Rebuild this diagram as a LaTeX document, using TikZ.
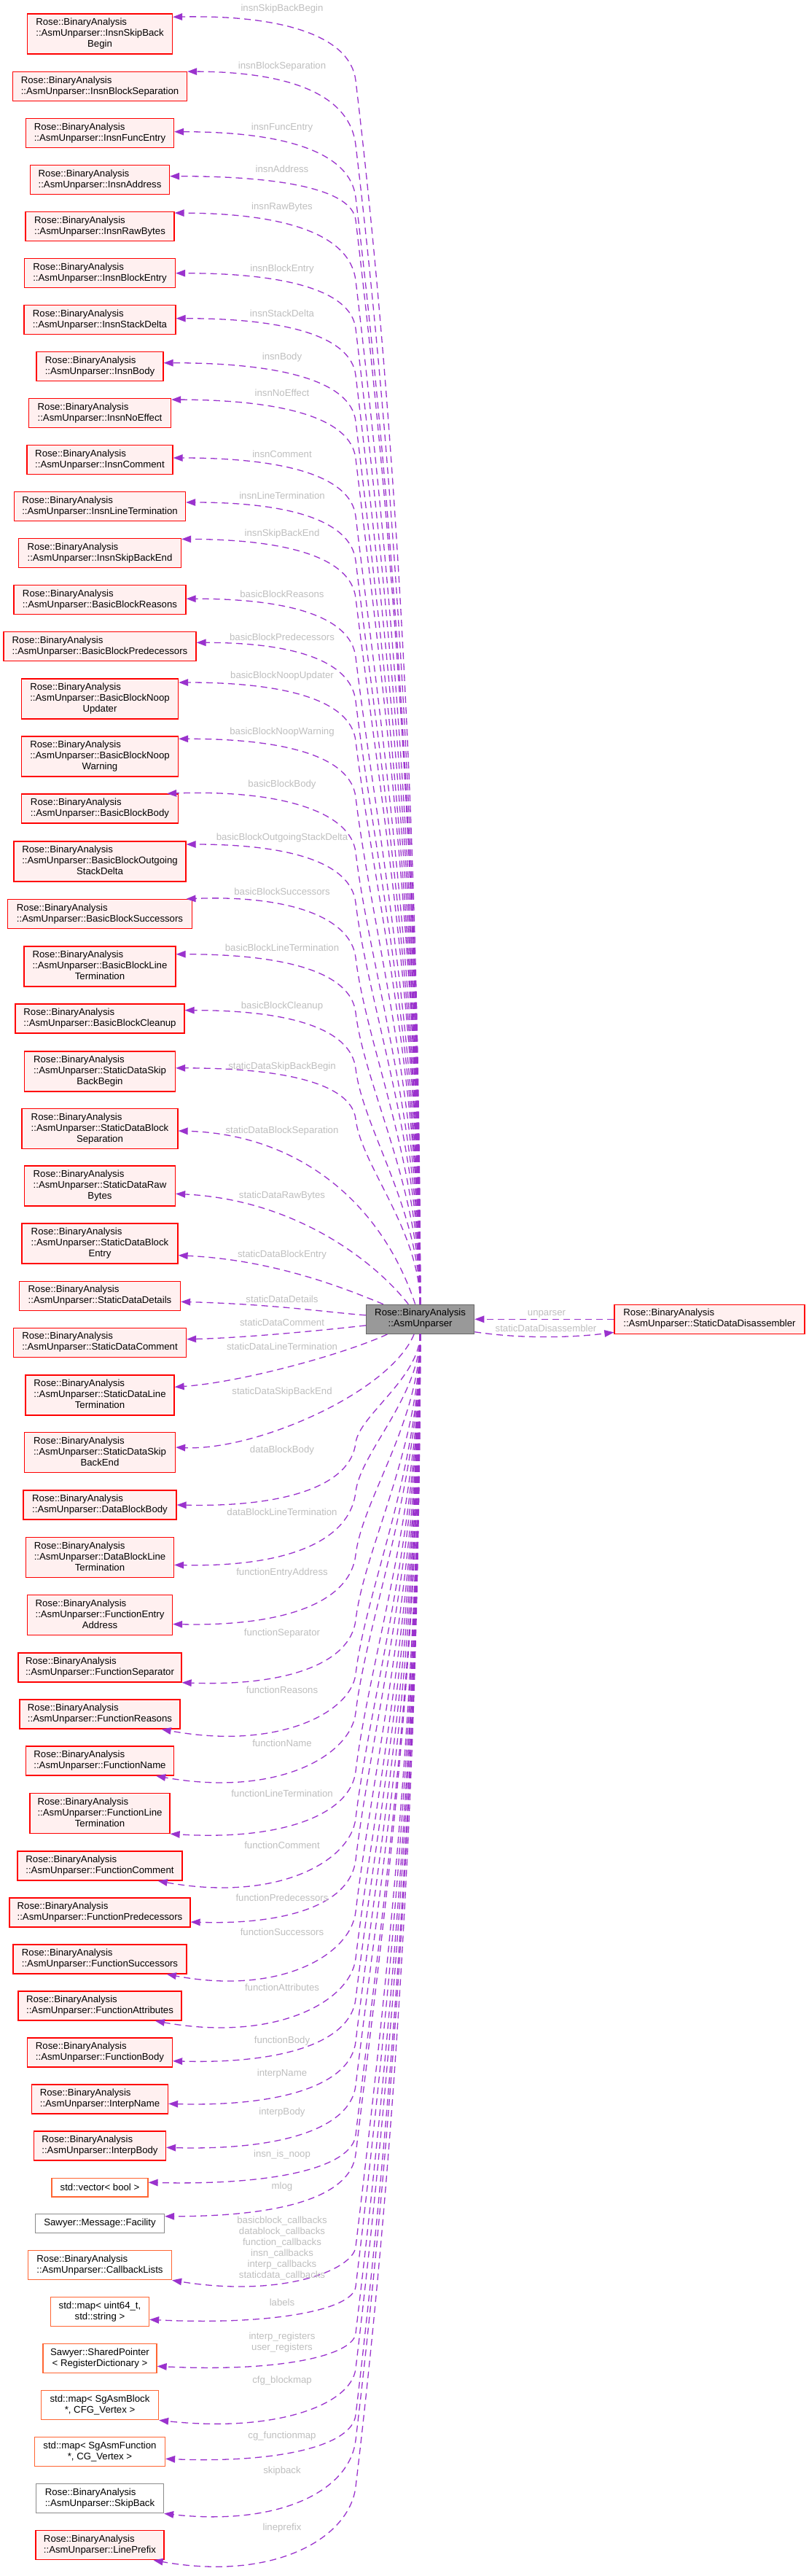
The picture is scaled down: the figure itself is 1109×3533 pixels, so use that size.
\documentclass[tikz,border=0pt]{standalone}
\usepackage{fontspec}
\newfontfamily\dox{Liberation Sans}
\usetikzlibrary{arrows.meta,calc}
\definecolor{edgec}{HTML}{9A32CD}
\definecolor{labc}{HTML}{BEBEBE}
\definecolor{rbord}{HTML}{FF0000}
\definecolor{rfill}{HTML}{FFF0F0}
\definecolor{obord}{HTML}{FF6633}
\definecolor{gbord}{HTML}{8C8C8C}
\definecolor{mfill}{HTML}{999999}
\definecolor{mbord}{HTML}{666666}
\newcommand\nTwo[2]{\begin{tabular}{@{}l@{}}#1\\\multicolumn{1}{@{}c@{}}{#2}\end{tabular}}
\newcommand\nThree[3]{\begin{tabular}{@{}l@{}}#1\\#2\\\multicolumn{1}{@{}c@{}}{#3}\end{tabular}}
\newcommand\rbA{Rose::BinaryAnalysis}
\newcommand\auP{::AsmUnparser::}
\newcommand\bx[6]{\node[#1, minimum width=#4pt, minimum height=#5pt] (#2) at (137,#3) {#6};}
\newcommand\lb[3]{\node[lab] (#1) at (387,#2) {#3};}
\newcommand\upE[5]{\draw[dep] (main) .. controls (576,{1789.3-0.4*(1789.3-(#3+#5))}) and ({488+0.03*(1789.3-(#3+#5))},{#3+#5+0.25*(1789.3-(#3+#5))}) .. (488,{#3+#5}) .. controls ({488-0.084*#5},{#3+0.3*#5}) and ({#2+0.6*(488-#2)},{#3+(#4)}) .. #1;}
\newcommand\loE[5]{\draw[dep] (main) .. controls (576,{1829.3+0.4*((#3-#5)-1829.3)}) and ({488+0.03*((#3-#5)-1829.3)},{#3-#5-0.25*((#3-#5)-1829.3)}) .. (488,{#3-#5}) .. controls ({488-0.084*#5},{#3-0.3*#5}) and ({#2+0.6*(488-#2)},{#3+(#4)}) .. #1;}
\tikzset{
 box/.style={draw, line width=1.3pt, inner sep=0pt, font=\dox\fontsize{13.2pt}{15pt}\selectfont, text=black},
 rbox/.style={box, draw=rbord, fill=rfill},
 obox/.style={box, draw=obord, fill=white},
 gbox/.style={box, draw=gbord, fill=white},
 dep/.style={draw=edgec, line width=1.3pt, dash pattern=on 9pt off 6pt, -{Triangle[length=13pt,width=9.5pt]}},
 lab/.style={text=labc, inner sep=0pt, font=\dox\fontsize{13.2pt}{15pt}\selectfont, text height=10.5pt, text depth=4.5pt},
 labm/.style={text=labc, inner sep=0pt, font=\dox\fontsize{13.2pt}{15pt}\selectfont},
}
\begin{document}
\begin{tikzpicture}[x=1pt,y=-1pt]
\useasboundingbox (0,0) rectangle (1109,3533);
% central nodes
\node[box, draw=mbord, fill=mfill, minimum width=148pt, minimum height=40pt] (main) at (576.6,1809.3) {\nTwo{\rbA}{::AsmUnparser}};
\node[rbox, minimum width=261pt, minimum height=40pt] (sdd) at (973.5,1809.3) {\nTwo{\rbA}{\auP StaticDataDisassembler}};
% left column
\bx{rbox}{n1}{46.5}{199}{55}{\nThree{\rbA}{\auP InsnSkipBack}{Begin}}
\bx{rbox}{n2}{118.7}{239}{40}{\nTwo{\rbA}{\auP InsnBlockSeparation}}
\bx{rbox}{n3}{182.7}{203}{40}{\nTwo{\rbA}{\auP InsnFuncEntry}}
\bx{rbox}{n4}{246.7}{191}{40}{\nTwo{\rbA}{\auP InsnAddress}}
\bx{rbox}{n5}{310.7}{204}{40}{\nTwo{\rbA}{\auP InsnRawBytes}}
\bx{rbox}{n6}{374.7}{207}{40}{\nTwo{\rbA}{\auP InsnBlockEntry}}
\bx{rbox}{n7}{438.7}{208}{40}{\nTwo{\rbA}{\auP InsnStackDelta}}
\bx{rbox}{n8}{502.7}{174}{40}{\nTwo{\rbA}{\auP InsnBody}}
\bx{rbox}{n9}{566.7}{195}{40}{\nTwo{\rbA}{\auP InsnNoEffect}}
\bx{rbox}{n10}{630.7}{200}{40}{\nTwo{\rbA}{\auP InsnComment}}
\bx{rbox}{n11}{694.7}{235}{40}{\nTwo{\rbA}{\auP InsnLineTermination}}
\bx{rbox}{n12}{758.7}{223}{40}{\nTwo{\rbA}{\auP InsnSkipBackEnd}}
\bx{rbox}{n13}{822.7}{236}{40}{\nTwo{\rbA}{\auP BasicBlockReasons}}
\bx{rbox}{n14}{886.7}{264}{40}{\nTwo{\rbA}{\auP BasicBlockPredecessors}}
\bx{rbox}{n15}{958.5}{215}{55}{\nThree{\rbA}{\auP BasicBlockNoop}{Updater}}
\bx{rbox}{n16}{1037.5}{215}{55}{\nThree{\rbA}{\auP BasicBlockNoop}{Warning}}
\bx{rbox}{n17}{1109}{215}{40}{\nTwo{\rbA}{\auP BasicBlockBody}}
\bx{rbox}{n18}{1181.5}{236}{55}{\nThree{\rbA}{\auP BasicBlockOutgoing}{StackDelta}}
\bx{rbox}{n19}{1253.5}{253}{40}{\nTwo{\rbA}{\auP BasicBlockSuccessors}}
\bx{rbox}{n20}{1325.5}{208}{55}{\nThree{\rbA}{\auP BasicBlockLine}{Termination}}
\bx{rbox}{n21}{1397}{232}{40}{\nTwo{\rbA}{\auP BasicBlockCleanup}}
\bx{rbox}{n22}{1469.5}{207}{55}{\nThree{\rbA}{\auP StaticDataSkip}{BackBegin}}
\bx{rbox}{n23}{1548.2}{214}{55}{\nThree{\rbA}{\auP StaticDataBlock}{Separation}}
\bx{rbox}{n24}{1626.5}{207}{55}{\nThree{\rbA}{\auP StaticDataRaw}{Bytes}}
\bx{rbox}{n25}{1705.5}{214}{55}{\nThree{\rbA}{\auP StaticDataBlock}{Entry}}
\bx{rbox}{n26}{1777.3}{221}{40}{\nTwo{\rbA}{\auP StaticDataDetails}}
\bx{rbox}{n27}{1841.3}{237}{40}{\nTwo{\rbA}{\auP StaticDataComment}}
\bx{rbox}{n28}{1913.5}{204}{55}{\nThree{\rbA}{\auP StaticDataLine}{Termination}}
\bx{rbox}{n29}{1992.2}{207}{55}{\nThree{\rbA}{\auP StaticDataSkip}{BackEnd}}
\bx{rbox}{n30}{2064}{210}{40}{\nTwo{\rbA}{\auP DataBlockBody}}
\bx{rbox}{n31}{2136}{203}{55}{\nThree{\rbA}{\auP DataBlockLine}{Termination}}
\bx{rbox}{n32}{2215}{199}{55}{\nThree{\rbA}{\auP FunctionEntry}{Address}}
\bx{rbox}{n33}{2287}{224}{40}{\nTwo{\rbA}{\auP FunctionSeparator}}
\bx{rbox}{n34}{2351}{220}{40}{\nTwo{\rbA}{\auP FunctionReasons}}
\bx{rbox}{n35}{2415}{203}{40}{\nTwo{\rbA}{\auP FunctionName}}
\bx{rbox}{n36}{2487}{192}{55}{\nThree{\rbA}{\auP FunctionLine}{Termination}}
\bx{rbox}{n37}{2559}{226}{40}{\nTwo{\rbA}{\auP FunctionComment}}
\bx{rbox}{n38}{2623}{248}{40}{\nTwo{\rbA}{\auP FunctionPredecessors}}
\bx{rbox}{n39}{2687}{238}{40}{\nTwo{\rbA}{\auP FunctionSuccessors}}
\bx{rbox}{n40}{2751}{224}{40}{\nTwo{\rbA}{\auP FunctionAttributes}}
\bx{rbox}{n41}{2815}{199}{40}{\nTwo{\rbA}{\auP FunctionBody}}
\bx{rbox}{n42}{2879}{187}{40}{\nTwo{\rbA}{\auP InterpName}}
\bx{rbox}{n43}{2943}{181}{40}{\nTwo{\rbA}{\auP InterpBody}}
\bx{obox}{n44}{3000.2}{132}{25.5}{std::vector< bool >}
\bx{gbox}{n45}{3049.5}{177}{25.6}{Sawyer::Message::Facility}
\bx{obox}{n46}{3106.7}{197}{40}{\nTwo{\rbA}{\auP CallbackLists}}
\bx{obox}{n47}{3170.7}{135}{40}{\nTwo{std::map< uint64\_t,}{std::string >}}
\bx{obox}{n48}{3234.7}{156}{40}{\nTwo{Sawyer::SharedPointer}{< RegisterDictionary >}}
\bx{obox}{n49}{3298.7}{161}{40}{\nTwo{std::map< SgAsmBlock}{*, CFG\_Vertex >}}
\bx{obox}{n50}{3362.7}{179}{40}{\nTwo{std::map< SgAsmFunction}{*, CG\_Vertex >}}
\bx{gbox}{n51}{3426.7}{175}{40}{\nTwo{\rbA}{\auP SkipBack}}
\bx{rbox}{n52}{3490.7}{176}{40}{\nTwo{\rbA}{\auP LinePrefix}}
% edges to upper nodes
\upE{($(n1.east)+(0,-23.2)$)}{236.7}{23.3}{-3}{87}
\upE{(n2.north east)}{256.6}{98.7}{0}{100}
\upE{($(n3.east)+(0,-2)$)}{238.7}{180.7}{0}{90}
\upE{($(n4.east)+(0,-5)$)}{232.7}{241.7}{0}{60}
\upE{($(n5.north east)+(0,2)$)}{239.3}{292.7}{0}{92}
\upE{(n6.east)}{240.7}{374.7}{0}{76}
\upE{($(n7.east)+(0,-2)$)}{241.3}{436.7}{0}{78}
\upE{($(n8.east)+(0,-5)$)}{224}{497.7}{0}{80}
\upE{($(n9.north east)+(0,2)$)}{234.6}{548.7}{0}{80}
\upE{($(n10.east)+(0,-2.7)$)}{237}{628}{0}{80}
\upE{($(n11.east)+(0,-5.7)$)}{254.6}{689}{0}{80}
\upE{($(n12.north east)+(0,1.3)$)}{248.6}{740}{0}{80}
\upE{($(n13.east)+(0,-1.5)$)}{255.5}{821.2}{0}{80}
\upE{($(n14.east)+(0,-5.4)$)}{269}{881.3}{0}{80}
\upE{($(n15.east)+(0,-22.5)$)}{244.6}{936}{0}{80}
\upE{($(n16.east)+(0,-24.2)$)}{244.6}{1013.3}{0}{80}
\upE{($(n17.north east)+(-16,0)$)}{228.6}{1089}{-6}{80}
\upE{($(n18.east)+(0,-23.5)$)}{255}{1158}{0}{80}
\upE{($(n19.north east)+(-8.6,0)$)}{255}{1233.5}{-6}{80}
\upE{($(n20.east)+(0,-16.8)$)}{241.4}{1308.7}{0}{80}
\upE{($(n21.east)+(0,-11.4)$)}{253.2}{1385.6}{0}{80}
\upE{($(n22.east)+(0,-4.7)$)}{240.7}{1464.8}{0}{70}
% edges near the central node
\draw[dep] (main) .. controls (520,1640) and (400,1555) .. ($(n23.east)+(0,2.8)$);
\draw[dep] (main) .. controls (510,1725) and (400,1645) .. ($(n24.east)+(0,10.8)$);
\draw[dep] (main) .. controls (480,1770) and (380,1728) .. ($(n25.east)+(0,16.2)$);
\draw[dep] (main) .. controls (450,1800) and (380,1789) .. ($(n26.east)+(0,8)$);
\draw[dep] (main) .. controls (430,1826) and (330,1835) .. ($(n27.east)+(0,-4.6)$);
\draw[dep] (main) .. controls (470,1858) and (330,1896) .. ($(n28.east)+(0,-11.2)$);
\draw[dep] (main) .. controls (535,1910) and (350,1990) .. ($(n29.east)+(0,-7.2)$);
% edges to lower nodes
\loE{(n30.east)}{242}{2064}{3}{85}
\loE{($(n31.east)+(0,10.3)$)}{238.6}{2146.3}{3}{100}
\loE{($(n32.east)+(0,12.5)$)}{236.8}{2227.5}{3}{95}
\loE{(n33.south east)}{249.3}{2307}{6}{85}
\loE{($(n34.south east)+(-26,0)$)}{223.2}{2371}{30}{75}
\loE{($(n35.south east)+(-25,0)$)}{213.6}{2435}{30}{86}
\loE{(n36.south east)}{233.2}{2514.5}{10}{85}
\loE{($(n37.south east)+(-34,0)$)}{216}{2579}{30}{85}
\loE{($(n38.east)+(0,13)$)}{261.4}{2636}{4}{85}
\loE{($(n39.south east)+(-27.8,0)$)}{228.6}{2707}{30}{85}
\loE{($(n40.south east)+(-36.8,0)$)}{212.5}{2771}{30}{85}
\loE{($(n41.east)+(0,11.7)$)}{236.4}{2826.7}{4}{85}
\loE{($(n42.east)+(0,6.3)$)}{230.7}{2885.3}{4}{85}
\loE{($(n43.east)+(0,2.3)$)}{227.9}{2945.3}{4}{85}
\loE{($(n44.east)+(0,-7)$)}{203.6}{2993.2}{4}{65}
\loE{($(n45.east)+(0,-9.8)$)}{226}{3039.7}{0}{85}
\loE{(n46.south east)}{236}{3126.7}{25}{45}
\loE{($(n47.east)+(0,10.6)$)}{204.7}{3181.3}{8}{45}
\loE{($(n48.east)+(0,10.6)$)}{215.3}{3245.3}{8}{45}
\loE{(n49.south east)}{218}{3318.7}{18}{70}
\loE{($(n50.east)+(0,9.6)$)}{226.7}{3372.3}{6}{60}
\loE{(n51.south east)}{224.7}{3446.7}{18}{100}
\loE{($(n52.south east)+(-15,0)$)}{210.3}{3510.7}{30}{100}
% right node edges
\draw[dep] (sdd) -- (main);
\draw[dep] ($(main.east)+(0,17.4)$) .. controls (720,1837) and (790,1834) .. ($(sdd.west)+(0,18)$);
% labels
\lb{l1}{12.7}{insnSkipBackBegin}
\lb{l2}{91.7}{insnBlockSeparation}
\lb{l3}{175.3}{insnFuncEntry}
\lb{l4}{233.3}{insnAddress}
\lb{l5}{284.7}{insnRawBytes}
\lb{l6}{369.7}{insnBlockEntry}
\lb{l7}{431.7}{insnStackDelta}
\lb{l8}{490}{insnBody}
\lb{l9}{540.6}{insnNoEffect}
\lb{l10}{624}{insnComment}
\lb{l11}{681.7}{insnLineTermination}
\lb{l12}{732.3}{insnSkipBackEnd}
\lb{l13}{816.5}{basicBlockReasons}
\lb{l14}{875.4}{basicBlockPredecessors}
\lb{l15}{927.4}{basicBlockNoopUpdater}
\lb{l16}{1004.7}{basicBlockNoopWarning}
\lb{l17}{1076.7}{basicBlockBody}
\lb{l18}{1149.4}{basicBlockOutgoingStackDelta}
\lb{l19}{1224.7}{basicBlockSuccessors}
\lb{l20}{1301.6}{basicBlockLineTermination}
\lb{l21}{1380.5}{basicBlockCleanup}
\lb{l22}{1463.5}{staticDataSkipBackBegin}
\lb{l23}{1551.7}{staticDataBlockSeparation}
\lb{l24}{1640.7}{staticDataRawBytes}
\lb{l25}{1721.7}{staticDataBlockEntry}
\lb{l26}{1783.7}{staticDataDetails}
\lb{l27}{1815.3}{staticDataComment}
\lb{l28}{1848.7}{staticDataLineTermination}
\lb{l29}{1909.7}{staticDataSkipBackEnd}
\lb{l30}{1989.7}{dataBlockBody}
\lb{l31}{2075.4}{dataBlockLineTermination}
\lb{l32}{2157.3}{functionEntryAddress}
\lb{l33}{2240.3}{functionSeparator}
\lb{l34}{2319.6}{functionReasons}
\lb{l35}{2392.3}{functionName}
\lb{l36}{2461.5}{functionLineTermination}
\lb{l37}{2532.3}{functionComment}
\lb{l38}{2604.2}{functionPredecessors}
\lb{l39}{2651.3}{functionSuccessors}
\lb{l40}{2727.4}{functionAttributes}
\lb{l41}{2799.4}{functionBody}
\lb{l42}{2844.6}{interpName}
\lb{l43}{2897.4}{interpBody}
\lb{l44}{2955.5}{insn\_is\_noop}
\lb{l45}{2999}{mlog}
\node[labm] (l46) at (387,3083.5) {\begin{tabular}{@{}c@{}}basicblock\_callbacks\\datablock\_callbacks\\function\_callbacks\\insn\_callbacks\\interp\_callbacks\\staticdata\_callbacks\end{tabular}};
\lb{l47}{3159.7}{labels}
\node[labm] (l48) at (387,3212.7) {\begin{tabular}{@{}c@{}}interp\_registers\\user\_registers\end{tabular}};
\lb{l49}{3265.7}{cfg\_blockmap}
\lb{l50}{3341.7}{cg\_functionmap}
\lb{l51}{3389.7}{skipback}
\lb{l52}{3467.3}{lineprefix}
\node[lab] (lu) at (750,1801) {unparser};
\node[lab] (ls) at (749,1823.7) {staticDataDisassembler};
\end{tikzpicture}
\end{document}
